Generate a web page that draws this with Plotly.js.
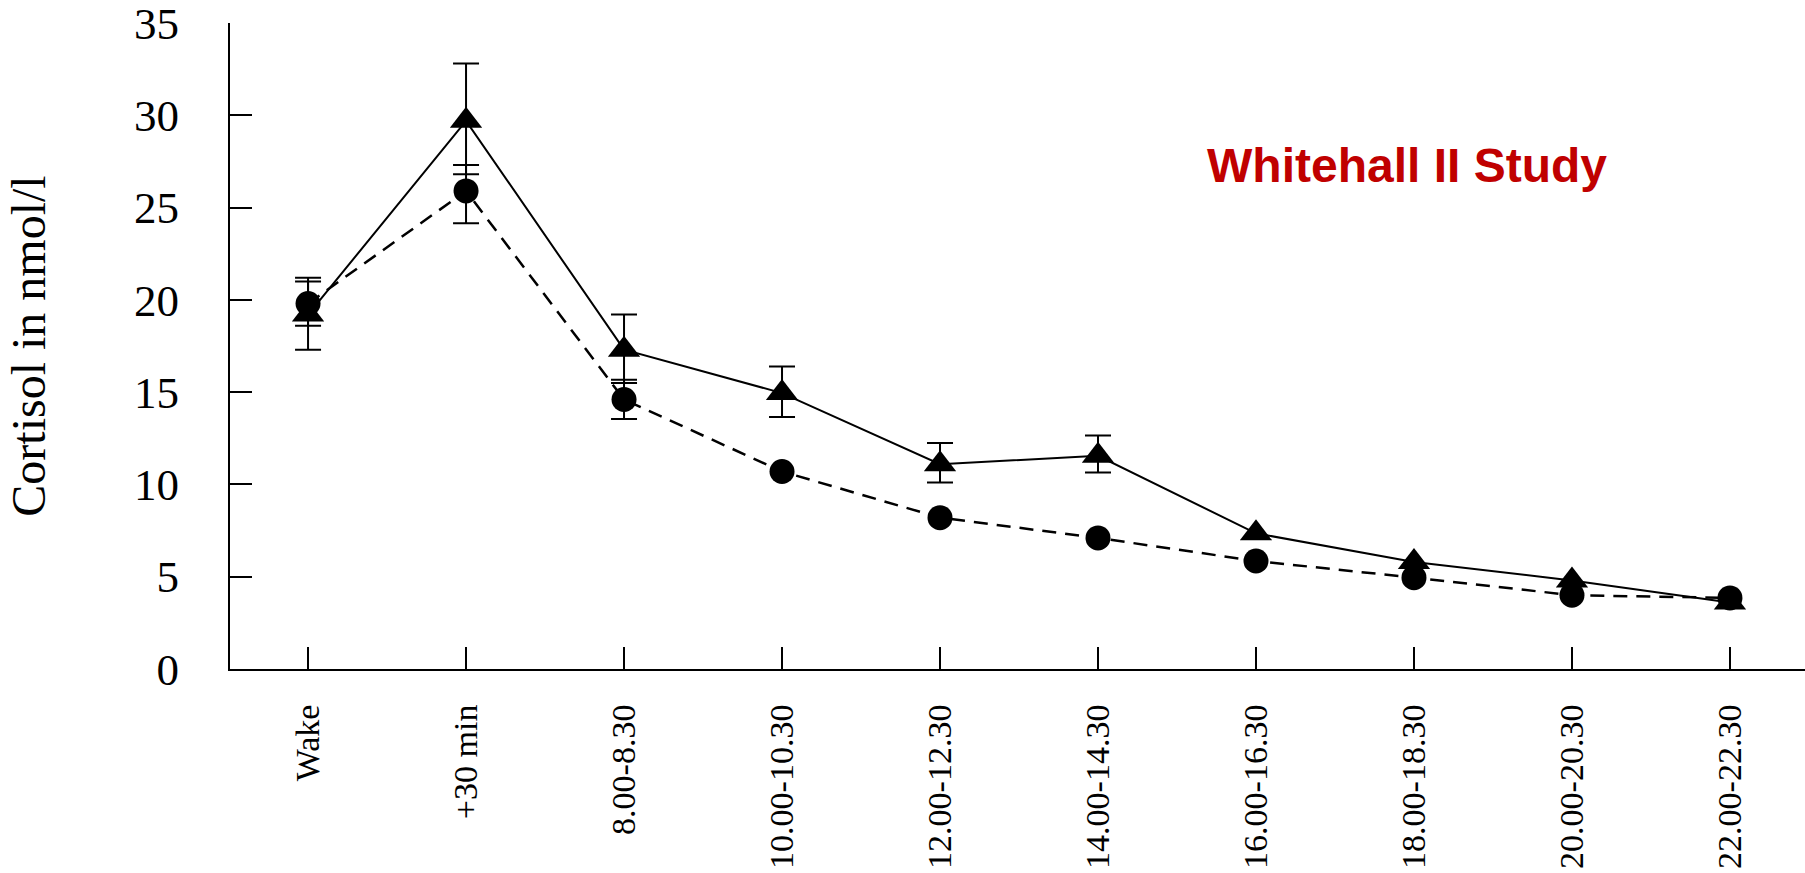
<!DOCTYPE html>
<html>
<head>
<meta charset="utf-8">
<script src="https://cdn.plot.ly/plotly-3.0.1.min.js"></script>
<style>
html, body { margin: 0; padding: 0; background: #fff; }
#chart { width: 1805px; height: 873px; }
</style>
</head>
<body>
<div id="chart"></div>
<script>
// ---- data ----
var categories = ['Wake', '+30 min', '8.00-8.30', '10.00-10.30', '12.00-12.30',
                  '14.00-14.30', '16.00-16.30', '18.00-18.30', '20.00-20.30', '22.00-22.30'];
var yTickVals = [0, 5, 10, 15, 20, 25, 30, 35];

var triangleValues   = [19.2, 29.7, 17.3, 14.95, 11.1, 11.55, 7.35, 5.8, 4.8, 3.6];
var triangleErrPlus  = [2.0, 3.1, 1.9, 1.44, 1.15, 1.1, null, null, null, null];
var triangleErrMinus = [1.9, 2.9, 1.8, 1.3, 1.0, 0.9, null, null, null, null];

var circleValues   = [19.8, 25.9, 14.6, 10.7, 8.2, 7.1, 5.85, 4.95, 4.0, 3.85];
var circleErrPlus  = [1.2, 1.4, 1.07, null, null, null, null, null, null, null];
var circleErrMinus = [1.2, 1.75, 1.06, null, null, null, null, null, null, null];

var yTitle = 'Cortisol in nmol/l';
var studyLabel = 'Whitehall II Study';

function toErr(a) { return a.map(function (v) { return v === null ? NaN : v; }); }

var serif = 'Liberation Serif, Times New Roman, serif';

var traces = [
  {
    type: 'scatter', mode: 'lines+markers',
    x: categories, y: triangleValues,
    line: { color: '#000', width: 2, dash: 'solid' },
    marker: { symbol: 'triangle-up', size: 28, color: '#000' },
    error_y: { type: 'data', symmetric: false, array: toErr(triangleErrPlus),
               arrayminus: toErr(triangleErrMinus), color: '#000', thickness: 2, width: 13 },
    showlegend: false, hoverinfo: 'skip'
  },
  {
    type: 'scatter', mode: 'lines+markers',
    x: categories, y: circleValues,
    line: { color: '#000', width: 2.5, dash: '14px,9px' },
    marker: { symbol: 'circle', size: 25, color: '#000' },
    error_y: { type: 'data', symmetric: false, array: toErr(circleErrPlus),
               arrayminus: toErr(circleErrMinus), color: '#000', thickness: 2, width: 13 },
    showlegend: false, hoverinfo: 'skip'
  }
];

var layout = {
  width: 1805, height: 873,
  paper_bgcolor: '#fff', plot_bgcolor: '#fff',
  margin: { l: 230, r: 0, t: 23, b: 204, pad: 0 },
  font: { family: serif, color: '#000' },
  xaxis: {
    type: 'category',
    range: [-0.494, 9.475],
    showgrid: false, zeroline: false,
    showline: true, linecolor: '#000', linewidth: 2,
    ticks: 'inside', ticklen: 22, tickwidth: 2, tickcolor: '#000',
    tickangle: -90,
    tickfont: { family: serif, size: 34, color: '#000' },
    ticklabelstandoff: 20,
    automargin: false
  },
  yaxis: {
    range: [0, 35],
    tickvals: yTickVals,
    showgrid: false, zeroline: false,
    showline: true, linecolor: '#000', linewidth: 2,
    ticks: 'inside', ticklen: 22, tickwidth: 2, tickcolor: '#000',
    tickfont: { family: serif, size: 45, color: '#000' },
    ticklabelstandoff: 40,
    ticklabeloverflow: 'allow',
    title: { text: yTitle, font: { family: serif, size: 48, color: '#000' }, standoff: 73 },
    automargin: false
  },
  annotations: [
    {
      text: studyLabel,
      xref: 'paper', yref: 'paper',
      x: 0.747, y: 0.78, xanchor: 'center', yanchor: 'middle',
      showarrow: false,
      font: { family: 'Liberation Sans, Arial, sans-serif', size: 48, color: '#C00000', weight: 700 }
    }
  ]
};

Plotly.newPlot('chart', traces, layout, { displayModeBar: false, staticPlot: true });
</script>
</body>
</html>
